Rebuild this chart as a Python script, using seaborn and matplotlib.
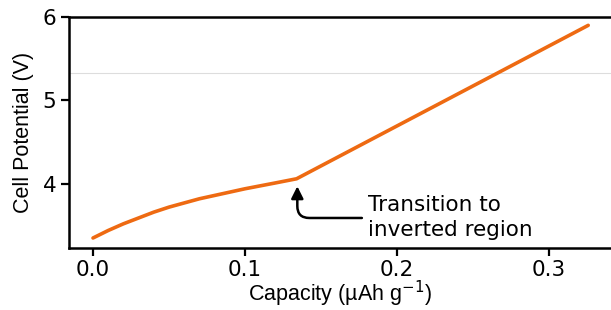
import numpy as np
import pandas as pd
import matplotlib
matplotlib.use("Agg")
import matplotlib.pyplot as plt
import seaborn as sns

# data
capacity = [0.0, 0.01, 0.02, 0.03, 0.04, 0.05, 0.06, 0.07, 0.08, 0.09, 0.10, 0.11, 0.12, 0.134, 0.326]
potential = [3.35, 3.44, 3.52, 3.59, 3.66, 3.72, 3.77, 3.82, 3.86, 3.90, 3.94, 3.975, 4.01, 4.06, 5.90]
x_ticks = [0.0, 0.1, 0.2, 0.3]
y_ticks = [4, 5, 6]
ref_level = 5.33
kink = (0.134, 4.06)

LINE_COLOR = "#EE6A12"
FS = 15.5

sns.set_style("white")
plt.rcParams["font.family"] = ["DejaVu Sans"]
plt.rcParams["text.color"] = "black"

df = pd.DataFrame({"Capacity": capacity, "Potential": potential})

fig = plt.figure(figsize=(6.11, 3.10), dpi=100)
ax = fig.add_axes([69 / 611, 62 / 310, 542 / 611, 231 / 310])

ax.axhline(ref_level, color="#dddddd", lw=0.8, zorder=0)
sns.lineplot(data=df, x="Capacity", y="Potential", ax=ax,
             color=LINE_COLOR, lw=2.6, sort=False)

ax.set_xlim(-0.0158, 0.341)
ax.set_ylim(3.23, 6.0)
ax.set_xticks(x_ticks)
ax.set_xticklabels([f"{v:.1f}" for v in x_ticks])
ax.set_yticks(y_ticks)
ax.tick_params(direction="out", length=6, width=1.6, labelsize=FS,
               colors="black", left=True, bottom=True, pad=3)

for side in ["left", "bottom", "top"]:
    ax.spines[side].set_visible(True)
    ax.spines[side].set_linewidth(1.8)
    ax.spines[side].set_color("black")
ax.spines["right"].set_visible(False)

ax.set_xlabel("Capacity (µAh g$^{-1}$)", fontsize=FS, color="black",
              family="Liberation Sans", labelpad=-1)
ax.set_ylabel("Cell Potential (V)", fontsize=FS, color="black",
              family="Liberation Sans", labelpad=6)

ax.annotate("", xy=(kink[0] + 0.0005, kink[1] - 0.09),
            xytext=(0.177, 3.59),
            arrowprops=dict(arrowstyle="-|>", color="black", lw=1.8,
                            mutation_scale=18, shrinkA=0, shrinkB=0,
                            connectionstyle="angle,angleA=0,angleB=90,rad=12"))
ax.text(0.181, 3.60, "Transition to\ninverted region", fontsize=FS,
        color="black", va="center", ha="left", linespacing=1.3)

fig.savefig("out.png", dpi=100)
